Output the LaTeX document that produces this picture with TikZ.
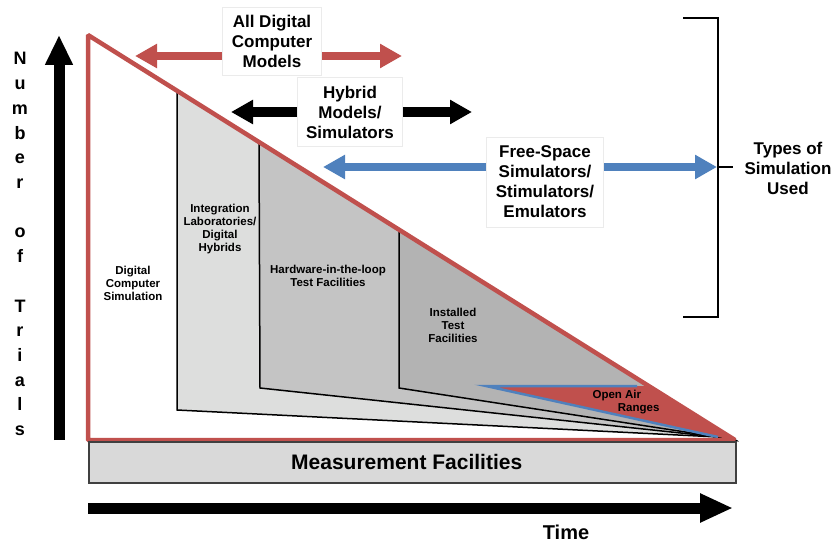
\documentclass[tikz,border=0pt]{standalone}
\usepackage{fontspec}
\setmainfont{Liberation Sans}
\usetikzlibrary{arrows.meta}
\definecolor{simred}{HTML}{C0504D}
\definecolor{simblue}{HTML}{4F81BD}
\definecolor{lightgr}{HTML}{DDDEDD}
\definecolor{midgr}{HTML}{C4C4C4}
\definecolor{darkgr}{HTML}{B3B3B3}
\definecolor{boxgr}{HTML}{D9D9D9}

\begin{document}
\begin{tikzpicture}[x=1pt, y=-1pt,
    bigtext/.style={font=\fontsize{17}{20}\selectfont\bfseries, align=center},
    smalltext/.style={font=\fontsize{11.5}{13}\selectfont\bfseries, align=center},
    labelbox/.style={bigtext, fill=white, draw=black!8, line width=0.6pt, inner sep=0pt},
    span/.style={line width=8pt, {Triangle[length=22pt,width=23pt]}-{Triangle[length=22pt,width=23pt]}},
    region/.style={draw=black, line width=1.5pt}]
    \useasboundingbox (0,0) rectangle (836,543);

    \coordinate (top) at (88,35);
    \coordinate (corner) at (88,440);
    \coordinate (apex) at (735,440);
    \coordinate (tip) at (718,437);

    % nested regions
    \fill[white] (top) -- (corner) -- (apex) -- cycle;
    \filldraw[region, fill=lightgr] (177,90.7) -- (177,410) -- (tip) -- (apex) -- cycle;
    \filldraw[region, fill=midgr] (259,142) -- (260,388) -- (tip) -- (apex) -- cycle;
    \filldraw[region, fill=darkgr] (399,229.7) -- (399,388) -- (tip) -- (apex) -- cycle;

    \coordinate (oa1) at (486,386);
    \coordinate (oa2) at (637,386);
    \fill[simred] (oa1) -- (648.7,386) -- (apex) -- (tip) -- cycle;
    \draw[simblue, line width=2.5pt] (oa2) -- (oa1) -- (tip);

    \draw[simred, line width=4.5pt, line join=bevel] (top) -- (corner) -- (apex) -- cycle;

    \node[smalltext] (dcs) at (133,283) {Digital\\Computer\\Simulation};
    \node[smalltext] (intlab) at (220,229) {Integration\\Laboratories/\\Digital\\Hybrids};
    \node[smalltext] (hil) at (328,276) {Hardware-in-the-loop\\Test Facilities};
    \node[smalltext] (itf) at (453,325) {Installed\\Test\\Facilities};
    \node[smalltext, align=left] (oar) at (626,402) {Open Air\\\hspace*{2.2em}Ranges};

    % measurement facilities and time
    \node[draw=black!75, fill=boxgr, line width=1.5pt, minimum width=647pt, minimum height=41pt,
          inner sep=0pt, anchor=north west, font=\fontsize{21}{24}\selectfont\bfseries]
          (meas) at (88,441) {\hspace*{-11pt}Measurement Facilities};
    \coordinate (t0) at (88,508);
    \coordinate (t1) at (733,508);
    \draw[line width=11pt, -{Triangle[length=33pt,width=27pt]}] (t0) -- (t1);
    \node[font=\fontsize{20}{24}\selectfont\bfseries] (time) at (566,532) {Time};

    % number of trials
    \coordinate (n0) at (59,440);
    \coordinate (n1) at (59,35);
    \draw[line width=11pt, -{Triangle[length=30pt,width=26pt]}] (n0) -- (n1);
    \foreach \k/\ch in {0/N,1/u,2/m,3/b,4/e,5/r,7/o,8/f,10/T,11/r,12/i,13/a,14/l,15/s}
        \node[font=\fontsize{18}{18}\selectfont\bfseries, anchor=base] (trial\k) at (20,{65+24.7*\k}) {\ch};

    % types of simulation
    \coordinate (dig0) at (135,56);
    \coordinate (dig1) at (402,56);
    \draw[span, simred] (dig0) -- (dig1);
    \node[labelbox, minimum width=99pt, minimum height=68pt] (digital) at (272,41) {All Digital\\Computer\\Models};

    \coordinate (hyb0) at (231,112);
    \coordinate (hyb1) at (472,112);
    \draw[span, line width=10pt] (hyb0) -- (hyb1);
    \node[labelbox, minimum width=105pt, minimum height=69pt] (hybrid) at (350,112) {Hybrid\\Models/\\Simulators};

    \coordinate (fs0) at (323,167);
    \coordinate (fs1) at (717,167);
    \draw[span, simblue] (fs0) -- (fs1);
    \node[labelbox, minimum width=117pt, minimum height=90pt] (freespace) at (545,182) {Free-Space\\Simulators/\\Stimulators/\\Emulators};

    \coordinate (br0) at (683,18);
    \coordinate (br1) at (683,317);
    \coordinate (brmid) at (718,167);
    \coordinate (brtick) at (733,167);
    \draw[line width=2pt] (br0) -- (718,18) -- (718,317) -- (br1);
    \draw[line width=2pt] (brmid) -- (brtick);
    \node[bigtext] (types) at (788,168) {Types of\\Simulation\\Used};
\end{tikzpicture}
\end{document}
